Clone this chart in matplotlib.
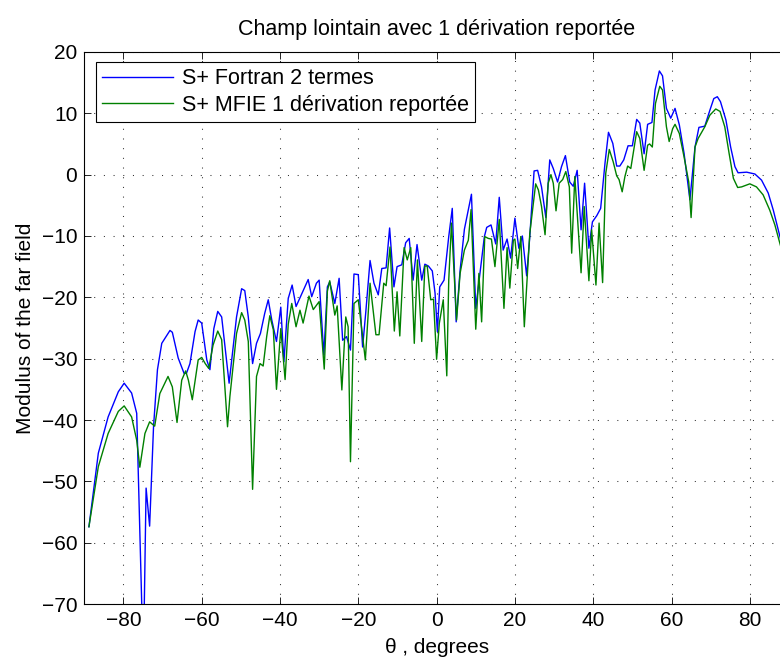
import numpy as np
import matplotlib
matplotlib.use("Agg")
import matplotlib.pyplot as plt

plt.rcParams["font.family"] = ["Liberation Sans", "DejaVu Sans"]

# values (theta in degrees, modulus)
theta_fortran = [
    -88.8, -86.4, -83.9, -81.3, -79.8, -77.9, -76.6, -74.9, -74.2, -73.3,
    -72.3, -71.3, -70.2, -68.1, -67.5, -66.0, -64.5, -63.9, -63.0, -61.7,
    -60.9, -60.0, -58.7, -57.9, -56.9, -55.9, -54.9, -53.0, -51.1, -49.8,
    -49.0, -48.1, -47.0, -46.0, -45.0, -43.9, -43.0, -42.1, -40.9, -39.8,
    -39.0, -37.9, -36.9, -35.9, -32.8, -31.9, -30.7, -30.0, -28.8, -27.9,
    -27.3, -26.0, -24.9, -24.0, -23.0, -22.0, -21.1, -20.0, -18.9, -18.1,
    -17.0, -16.0, -14.9, -14.0, -12.9, -12.0, -10.9, -10.1, -8.9, -7.9,
    -7.0, -6.0, -5.0, -3.8, -3.0, -2.1, -1.1, -0.4, 0.2, 0.8,
    1.9, 3.1, 4.0, 5.0, 6.0, 7.1, 8.9, 10.0, 11.1, 12.2,
    12.8, 13.9, 15.1, 16.0, 17.0, 18.0, 18.9, 20.0, 21.0, 21.9,
    23.0, 23.8, 24.9, 25.8, 26.8, 27.9, 28.9, 29.8, 30.9, 31.9,
    32.9, 34.0, 34.9, 35.9, 36.9, 37.8, 38.9, 39.8, 40.9, 41.9,
    43.0, 43.9, 45.0, 46.0, 46.8, 47.8, 48.9, 50.0, 51.1, 51.9,
    53.0, 53.9, 55.0, 55.8, 56.9, 57.7, 58.7, 59.8, 60.9, 62.0,
    63.2, 64.7, 66.0, 67.0, 68.5, 69.8, 70.8, 71.7, 72.5, 73.9,
    75.1, 76.2, 77.0, 79.2, 81.3, 83.0, 84.7, 86.0, 87.7, 89.0,
]
mod_fortran = [
    -57.4, -45.4, -39.5, -35.4, -34.0, -35.6, -38.9, -80.0, -51.1, -57.3,
    -41.1, -31.8, -27.5, -25.4, -25.7, -29.9, -32.4, -32.4, -30.8, -25.6,
    -23.7, -24.2, -30.2, -31.8, -25.1, -22.3, -23.2, -34.0, -23.2, -18.6,
    -18.9, -23.2, -30.8, -27.5, -25.9, -22.6, -20.4, -23.7, -27.2, -21.6,
    -30.5, -20.2, -18.0, -21.5, -17.1, -19.9, -17.7, -17.2, -29.4, -18.3,
    -17.5, -21.0, -16.9, -27.0, -26.4, -28.6, -16.2, -16.3, -28.1, -22.5,
    -14.0, -17.7, -19.6, -15.3, -15.2, -8.7, -18.3, -15.0, -14.7, -11.1,
    -10.4, -17.2, -11.4, -17.2, -14.6, -14.9, -15.7, -19.3, -25.6, -18.3,
    -17.2, -10.1, -5.5, -24.0, -15.6, -8.9, -3.2, -21.8, -16.0, -10.1,
    -8.6, -8.2, -11.3, -3.7, -12.3, -10.5, -13.6, -7.1, -12.0, -10.0,
    -16.5, -10.1, 0.6, 0.7, -2.0, -7.0, 2.4, 1.0, -1.2, 1.3,
    3.1, -1.2, -1.9, 0.7, -9.0, -1.4, -12.0, -7.7, -6.7, -5.5,
    1.8, 6.9, 5.1, 1.4, 1.4, 2.4, 4.7, 4.7, 9.0, 8.4,
    3.4, 8.2, 8.5, 13.8, 16.9, 16.1, 10.8, 9.2, 10.8, 8.1,
    3.5, -4.1, 4.5, 7.7, 7.9, 10.5, 12.4, 12.7, 11.9, 8.9,
    4.5, 1.3, 0.3, 0.4, 0.1, -0.9, -3.0, -5.8, -10.1, -13.5,
]

theta_mfie = [
    -88.8, -86.4, -83.9, -81.3, -79.8, -77.9, -76.6, -75.8, -74.5, -73.3,
    -72.0, -70.7, -68.6, -67.5, -66.3, -65.1, -64.1, -63.4, -62.4, -60.9,
    -60.0, -59.1, -58.2, -57.1, -55.9, -54.9, -53.4, -52.8, -51.1, -49.8,
    -49.0, -48.1, -47.0, -46.0, -45.1, -44.3, -43.4, -42.6, -41.7, -40.9,
    -39.8, -38.7, -37.9, -37.0, -35.9, -34.9, -34.1, -32.6, -31.5, -30.0,
    -28.7, -27.9, -27.3, -26.0, -25.4, -24.2, -23.2, -22.6, -22.0, -21.1,
    -20.0, -18.2, -17.0, -15.5, -14.7, -13.5, -12.9, -11.9, -10.8, -10.1,
    -9.4, -8.3, -7.5, -6.6, -5.7, -4.9, -3.8, -3.0, -2.4, -1.5,
    -0.8, 0.0, 0.7, 1.7, 2.6, 3.1, 3.8, 5.1, 6.0, 7.1,
    8.1, 8.8, 10.0, 10.8, 11.5, 12.3, 13.2, 14.0, 14.9, 16.0,
    17.2, 18.0, 18.7, 19.6, 20.0, 20.7, 21.5, 22.4, 23.8, 25.3,
    26.0, 26.8, 27.7, 28.5, 29.2, 29.8, 30.5, 31.3, 32.2, 33.0,
    33.9, 34.5, 35.3, 36.9, 37.7, 38.9, 39.6, 40.7, 41.5, 42.4,
    43.2, 44.1, 45.1, 46.0, 46.6, 47.4, 48.1, 48.8, 49.6, 51.1,
    51.9, 53.0, 53.9, 54.4, 55.1, 55.9, 57.0, 57.7, 58.7, 59.4,
    60.3, 60.9, 62.0, 63.2, 64.4, 65.0, 66.0, 66.8, 68.5, 69.8,
    71.3, 72.4, 73.6, 74.7, 75.8, 76.9, 77.9, 80.0, 81.7, 83.4,
    85.1, 86.4, 87.7, 89.0,
]
mod_mfie = [
    -57.4, -47.6, -42.2, -38.6, -37.7, -39.5, -43.3, -47.7, -42.2, -40.3,
    -41.0, -35.7, -32.9, -34.6, -40.4, -33.5, -32.0, -33.5, -36.7, -30.2,
    -29.8, -30.8, -31.6, -27.8, -25.5, -26.9, -41.1, -36.2, -25.9, -22.5,
    -23.7, -27.2, -51.3, -32.9, -30.8, -31.2, -26.4, -23.0, -25.3, -35.0,
    -25.1, -33.4, -24.4, -21.0, -24.8, -22.1, -24.2, -19.8, -22.0, -20.7,
    -31.7, -19.0, -17.3, -22.9, -21.4, -35.1, -23.2, -24.8, -46.8, -21.0,
    -20.4, -30.2, -17.7, -26.1, -26.1, -17.7, -18.1, -11.8, -25.5, -19.1,
    -26.3, -11.9, -13.9, -11.9, -27.5, -13.9, -27.2, -14.9, -14.9, -20.4,
    -20.3, -30.1, -24.2, -20.4, -32.8, -17.2, -7.9, -23.7, -16.1, -12.3,
    -10.7, -5.7, -25.2, -16.1, -24.0, -10.1, -10.4, -10.5, -15.0, -7.3,
    -21.8, -11.9, -18.5, -10.7, -10.5, -15.3, -10.1, -24.8, -9.6, -1.5,
    -2.5, -5.2, -9.8, -1.4, 0.0, -1.4, -5.9, -1.4, -0.8, 0.5,
    -2.0, -12.8, -0.3, -16.0, -5.2, -17.3, -9.0, -18.0, -7.9, -17.6,
    0.2, 4.1, 2.1, -0.2, -0.8, -2.8, -0.3, 1.4, 1.0, 7.0,
    5.9, 0.7, 4.8, 5.0, 4.5, 11.6, 14.4, 13.8, 7.8, 5.4,
    7.5, 8.2, 6.7, 2.9, -1.2, -7.0, 4.5, 5.9, 7.8, 9.7,
    10.7, 10.3, 7.8, 3.5, -0.6, -2.1, -2.0, -1.5, -2.0, -3.3,
    -5.8, -8.2, -11.2, -14.5,
]

x_ticks = [-80, -60, -40, -20, 0, 20, 40, 60, 80]
y_ticks = [-70, -60, -50, -40, -30, -20, -10, 0, 10, 20]

fig = plt.figure(figsize=(7.8, 6.6), dpi=100)
# axes run past the right edge, as in the cropped original
ax = fig.add_axes([0.108, 0.0848, 0.9035, 0.8365])

ax.plot(theta_fortran, mod_fortran, color=(0, 0, 1), lw=1.0,
        label="S+ Fortran 2 termes")
ax.plot(theta_mfie, mod_mfie, color=(0, 0.5, 0), lw=1.0,
        label="S+ MFIE 1 dérivation reportée")

ax.set_xlim(-90, 90)
ax.set_ylim(-70, 20)
ax.set_xticks(x_ticks)
ax.set_yticks(y_ticks)
ax.grid(True, color="0.2", linestyle=(0, (1, 8.3)), lw=0.75)
ax.tick_params(direction="in", top=True, right=True, length=5,
               width=0.6, labelsize=15, pad=5)
for s in ax.spines.values():
    s.set_linewidth(0.8)

ax.set_title("Champ lointain avec 1 dérivation reportée", fontsize=15.5, pad=12)
ax.set_xlabel("θ , degrees", fontsize=15, labelpad=6)
ax.set_ylabel("Modulus of the far field", fontsize=15, labelpad=5)

leg = ax.legend(loc="upper left", bbox_to_anchor=(0.016, 0.982),
                borderaxespad=0, fontsize=15.5, handlelength=3.3,
                handletextpad=0.4, borderpad=0.3, labelspacing=0.25,
                fancybox=False, framealpha=1, edgecolor="black")
leg.get_frame().set_linewidth(0.8)

fig.savefig("out.png", dpi=100)
